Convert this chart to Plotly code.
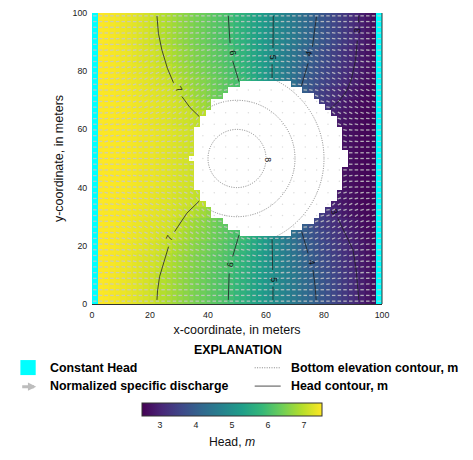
import numpy as np
import plotly.graph_objects as go

FONT = "Liberation Sans"
N_CELLS = 51
CELL = 100 / N_CELLS

# Head along a row, west to east; None where every row of the band is dry.
head_band_0 = [7.50,7.49,7.47,7.44,7.41,7.37,7.33,7.29,7.24,7.18,7.12,7.03,6.93,6.85,6.77,6.69,6.61,
               6.53,6.45,6.37,6.28,6.20,6.12,6.05,5.94,5.81,5.68,5.55,5.42,5.29,5.16,5.04,4.91,4.78,
               4.65,4.52,4.38,4.25,4.12,3.98,3.85,3.71,3.58,3.45,3.32,3.18,3.05,2.91,2.78,2.64,2.50]
head_band_1 = [7.50,7.49,7.47,7.45,7.42,7.39,7.35,7.31,7.27,7.22,7.17,7.11,7.03,6.92,6.84,6.76,6.67,
               6.59,6.51,6.43,6.35,6.26,6.18,6.10,6.02,5.88,5.74,5.60,5.46,5.32,5.18,5.03,4.88,4.73,
               4.58,4.42,4.27,4.12,3.96,3.84,3.71,3.59,3.46,3.34,3.21,3.09,2.97,2.86,2.74,2.62,2.50]
head_band_2 = [7.50,7.49,7.48,7.46,7.43,7.40,7.37,7.34,7.30,7.26,7.21,7.16,7.10,7.02,6.90,6.82,6.74,
               6.65,6.57,6.48,6.40,6.32,6.23,6.15,6.06,5.95,5.80,5.65,5.49,5.34,5.19,5.04,4.87,4.69,
               4.52,4.36,4.19,4.02,3.89,3.77,3.65,3.53,3.41,3.29,3.17,3.05,2.94,2.83,2.72,2.61,2.50]
head_band_3 = [7.50,7.49,7.48,7.46,7.44,7.42,7.39,7.36,7.33,7.29,7.25,7.21,7.16,7.10,7.02,6.91,6.82,
               6.73,6.65,6.56,6.48,6.39,6.30,6.22,6.13,6.03,5.91,5.74,5.56,5.39,5.22,5.05,4.87,4.68,
               4.50,4.31,4.12,3.94,3.82,3.70,3.58,3.46,3.34,3.22,3.10,2.99,2.89,2.78,2.68,2.59,2.50]
head_band_4 = [7.50,7.49,7.48,7.47,7.45,7.43,7.41,7.38,7.35,7.32,7.29,7.26,7.22,7.17,7.11,7.03,6.91,
               6.82,6.72,6.62,6.52,6.42,6.32,6.22] + [None] * 13 + [
               3.98,3.75,3.56,3.42,3.30,3.18,3.07,2.96,2.86,2.78,2.69,2.62,2.56,2.50]
head_band_5 = [7.50,7.49,7.48,7.47,7.46,7.44,7.42,7.40,7.38,7.35,7.32,7.29,7.26,7.22,7.18,7.13,7.07,
               7.00,6.88,6.78,6.68] + [None] * 19 + [
               3.40,3.22,3.04,2.94,2.84,2.76,2.69,2.63,2.58,2.54,2.50]
head_band_6 = [7.50,7.49,7.48,7.47,7.46,7.45,7.43,7.41,7.39,7.37,7.34,7.31,7.28,7.24,7.20,7.16,7.12,
               7.08,7.04,7.00] + [None] * 22 + [
               2.95,2.85,2.78,2.71,2.65,2.60,2.56,2.53,2.50]
head_band_7 = [7.50,7.49,7.49,7.48,7.47,7.46,7.44,7.42,7.40,7.38,7.36,7.33,7.30,7.27,7.24,7.21,7.17,
               7.13] + [None] * 26 + [
               2.72,2.68,2.63,2.59,2.56,2.53,2.50]
head_bands = [head_band_0, head_band_1, head_band_2, head_band_3,
              head_band_4, head_band_5, head_band_6, head_band_7]

# Which band each row uses, from the north edge down to the centre row.
band_of_row = [0,0,0,0,0,0,1,1,1,2,2,3,3,4,4,5,5,6,6,6,7,7,7,7,7,7]

# Dry cells: first dry column and first wet column again, for rows 12 to 25.
dry_first_row = 12
dry_start = [26,24,23,21,21,20,19,19,18,18,18,18,18,17]
dry_stop = [35,37,39,40,41,42,43,43,44,44,44,44,45,45]

constant_head_columns = [0, 50]
head_ticks = [3, 4, 5, 6, 7]
axis_ticks = [0, 20, 40, 60, 80, 100]
bottom_contour_radii = [10, 20, 30]
bottom_contour_centre = (50, 50)

# Head contours, with gaps where the labels sit.
contour_7_x = [22.4,22.9,24.1,26.0,28.1,None,31.0,33.8,37.0,None,37.0,32.7,28.5,None,26.4,24.6,23.3,22.6,22.4]
contour_7_y = [99.0,93.0,87.3,81.0,76.0,None,71.3,67.5,64.4,None,35.4,31.2,24.9,None,19.7,14.0,9.4,4.5,1.4]
contour_6_x = [47.0,47.2,47.6,None,48.5,49.5,50.7,None,50.7,49.6,48.5,None,47.3,47.1,47.0]
contour_6_y = [99.0,94.5,89.7,None,83.6,80.0,76.4,None,23.7,20.0,16.3,None,10.5,6.0,1.4]
contour_5_x = [62.5,62.5,62.4,None,62.1,62.1,None,62.1,62.2,62.3,None,62.4,62.4]
contour_5_y = [99.0,93.0,88.0,None,82.4,77.6,None,22.2,17.0,11.7,None,6.0,1.4]
contour_4_x = [77.4,76.8,76.0,None,74.5,73.4,72.2,None,72.3,73.4,74.5,None,76.2,76.9,77.3]
contour_4_y = [98.7,93.5,88.4,None,82.7,78.8,74.9,None,24.9,21.0,17.4,None,11.7,6.5,1.4]
contour_3_x = [92.0,91.9,None,91.5,90.9,89.4,87.7,85.4,82.0,None,84.8,87.5,90.0,91.1,91.7,92.0]
contour_3_y = [99.0,96.7,None,90.5,84.0,77.0,73.0,70.0,66.9,None,29.4,24.0,18.6,11.7,6.0,1.4]
head_contours = [(contour_7_x, contour_7_y), (contour_6_x, contour_6_y), (contour_5_x, contour_5_y),
                 (contour_4_x, contour_4_y), (contour_3_x, contour_3_y)]

# Contour labels: text, x, y, rotation.
contour_labels = [("7", 30.0, 74.0, 58), ("7", 26.7, 22.6, -65),
                  ("6", 48.7, 86.4, 80), ("6", 47.6, 13.4, -80),
                  ("5", 62.2, 84.8, 90), ("5", 62.8, 8.5, 90),
                  ("4", 74.8, 86.2, -75), ("4", 75.7, 14.3, 82),
                  ("3", 91.6, 94.0, -85), ("3", 83.7, 31.7, 65)]
bottom_label = ("8", 60.4, 49.7, 90)

# Assemble the head grid (row 0 is the north edge); the south half mirrors the north.
north = [band_of_row[r] for r in range(26)]
rows = north + north[-2::-1]
head = np.array([[np.nan if v is None else v for v in head_bands[b]] for b in rows], dtype=float)
for i, (a, b) in enumerate(zip(dry_start, dry_stop)):
    r = dry_first_row + i
    head[r, a:b] = np.nan
    head[N_CELLS - 1 - r, a:b] = np.nan

xc = (np.arange(N_CELLS) + 0.5) * CELL
yc = 100 - (np.arange(N_CELLS) + 0.5) * CELL

constant = np.full((N_CELLS, N_CELLS), np.nan)
constant[:, constant_head_columns] = 1


def slope(line, i, reach):
    """Drop in head per cell along one line, over the wet cells within reach of i."""
    lo, hi = i, i
    for k in range(1, reach + 1):
        if i - k < 0 or np.isnan(line[i - k]):
            break
        lo = i - k
    for k in range(1, reach + 1):
        if i + k >= len(line) or np.isnan(line[i + k]):
            break
        hi = i + k
    return (line[lo] - line[hi]) / (hi - lo) if hi > lo else 0.0


# Normalized specific discharge: unit vectors down the head gradient.
ARROW = 1.2
ax_, ay_, dot_x, dot_y = [], [], [], []
for r in range(N_CELLS):
    for c in range(N_CELLS):
        if np.isnan(head[r, c]):
            if r % 2 == 1 and c % 2 == 1:
                dot_x.append(xc[c])
                dot_y.append(yc[r])
            continue
        u = slope(head[r, :], c, 2)
        v = -slope(head[:, c], r, 3)
        n = np.hypot(u, v) or 1.0
        u, v = u / n * ARROW / 2, v / n * ARROW / 2
        ax_ += [xc[c] - u, xc[c] + u, None]
        ay_ += [yc[r] - v, yc[r] + v, None]

PLOT_L, PLOT_R, PLOT_T, PLOT_B = 92.3, 382.3, 13.3, 304.0
W, H = 473, 460
FINE_DOTS = "1px,1.4px"


def paper_x(px):
    return (px - PLOT_L) / (PLOT_R - PLOT_L)


def paper_y(py):
    return (PLOT_B - py) / (PLOT_B - PLOT_T)


fig = go.Figure()
fig.add_trace(go.Heatmap(
    x=xc, y=yc, z=head, zmin=2.5, zmax=7.5, colorscale="Viridis", hoverongaps=False,
    colorbar=dict(orientation="h", thickness=13, thicknessmode="pixels", len=180, lenmode="pixels",
                  x=paper_x(232.3), xanchor="center", y=paper_y(403.3), yanchor="top",
                  xpad=0, ypad=0, outlinecolor="#333333", outlinewidth=1,
                  tickvals=head_ticks, ticks="", tickfont=dict(family=FONT, size=8.8, color="#222222")),
))
fig.add_trace(go.Heatmap(x=xc, y=yc, z=constant, colorscale=[[0, "#00ffff"], [1, "#00ffff"]],
                         showscale=False, hoverinfo="skip"))
fig.add_trace(go.Scatter(x=dot_x, y=dot_y, mode="markers", hoverinfo="skip",
                         marker=dict(size=1.5, color="#dddddd")))
fig.add_trace(go.Scatter(x=ax_, y=ay_, mode="lines", hoverinfo="skip",
                         line=dict(color="rgba(200,200,200,0.85)", width=1.3)))
for cx, cy in head_contours:
    fig.add_trace(go.Scatter(x=cx, y=cy, mode="lines", hoverinfo="skip",
                             line=dict(color="#222222", width=0.8)))

annotations = []
for text, x, y, angle in contour_labels:
    annotations.append(dict(x=x, y=y, xref="x", yref="y", text=text, textangle=angle, showarrow=False,
                            font=dict(family=FONT, size=8.8, color="#111111")))
annotations.append(dict(x=bottom_label[1], y=bottom_label[2], xref="x", yref="y", text=bottom_label[0],
                        textangle=bottom_label[3], showarrow=False, bgcolor="white", borderpad=0,
                        font=dict(family=FONT, size=8.8, color="#111111")))


def legend_text(text, px, py, anchor="left"):
    annotations.append(dict(x=paper_x(px), y=paper_y(py), xref="paper", yref="paper", text=f"<b>{text}</b>",
                            xanchor=anchor, yanchor="middle", showarrow=False,
                            font=dict(family=FONT, size=12.4, color="#000000")))


legend_text("EXPLANATION", 238, 350, "center")
legend_text("Constant Head", 48.5, 367.7)
legend_text("Normalized specific discharge", 48.5, 386)
legend_text("Bottom elevation contour, m", 289, 367.7)
legend_text("Head contour, m", 289, 386)
annotations.append(dict(x=paper_x(232.3), y=paper_y(441.7), xref="paper", yref="paper", text="Head, <i>m</i>",
                        showarrow=False, yanchor="middle", font=dict(family=FONT, size=12.2, color="#111111")))
annotations.append(dict(x=paper_x(36.5), y=paper_y(386.6), ax=-15.5, ay=0, xref="paper", yref="paper",
                        axref="pixel", ayref="pixel", text="", showarrow=True, arrowhead=2, arrowsize=0.55,
                        arrowwidth=3, arrowcolor="#bdbdbd"))

shapes = []
for rad in bottom_contour_radii:
    shapes.append(dict(type="circle", xref="x", yref="y", layer="below",
                       x0=bottom_contour_centre[0] - rad, x1=bottom_contour_centre[0] + rad,
                       y0=bottom_contour_centre[1] - rad, y1=bottom_contour_centre[1] + rad,
                       line=dict(color="#666666", width=0.8, dash=FINE_DOTS)))
shapes.append(dict(type="line", xref="paper", yref="paper", x0=1, x1=1, y0=0, y1=1,
                   line=dict(color="#333333", width=1)))
shapes.append(dict(type="rect", xref="paper", yref="paper", x0=paper_x(20.7), x1=paper_x(36),
                   y0=paper_y(375), y1=paper_y(360), fillcolor="#00ffff", line=dict(width=0)))
shapes.append(dict(type="line", xref="paper", yref="paper", x0=paper_x(255), x1=paper_x(280),
                   y0=paper_y(367.7), y1=paper_y(367.7), line=dict(color="#666666", width=0.8, dash=FINE_DOTS)))
shapes.append(dict(type="line", xref="paper", yref="paper", x0=paper_x(255), x1=paper_x(281),
                   y0=paper_y(386), y1=paper_y(386), line=dict(color="#222222", width=0.8)))

axis_common = dict(range=[0, 100], tickvals=axis_ticks, ticks="outside", ticklen=2, tickcolor="rgba(0,0,0,0)",
                   showgrid=False, zeroline=False, tickfont=dict(family=FONT, size=8.8, color="#222222"))
fig.update_layout(
    width=W, height=H, autosize=False, showlegend=False,
    margin=dict(l=PLOT_L, r=W - PLOT_R, t=PLOT_T, b=H - PLOT_B, pad=0, autoexpand=False),
    paper_bgcolor="white", plot_bgcolor="white",
    xaxis=dict(axis_common, showline=True, linecolor="#333333", linewidth=1,
               title=dict(text="x-coordinate, in meters", standoff=6, font=dict(family=FONT, size=12.5, color="#111111"))),
    yaxis=dict(axis_common, showline=False,
               title=dict(text="y-coordinate, in meters", standoff=6, font=dict(family=FONT, size=12.5, color="#111111"))),
    annotations=annotations, shapes=shapes,
)
fig.write_html("out.html", config={"displayModeBar": False})
